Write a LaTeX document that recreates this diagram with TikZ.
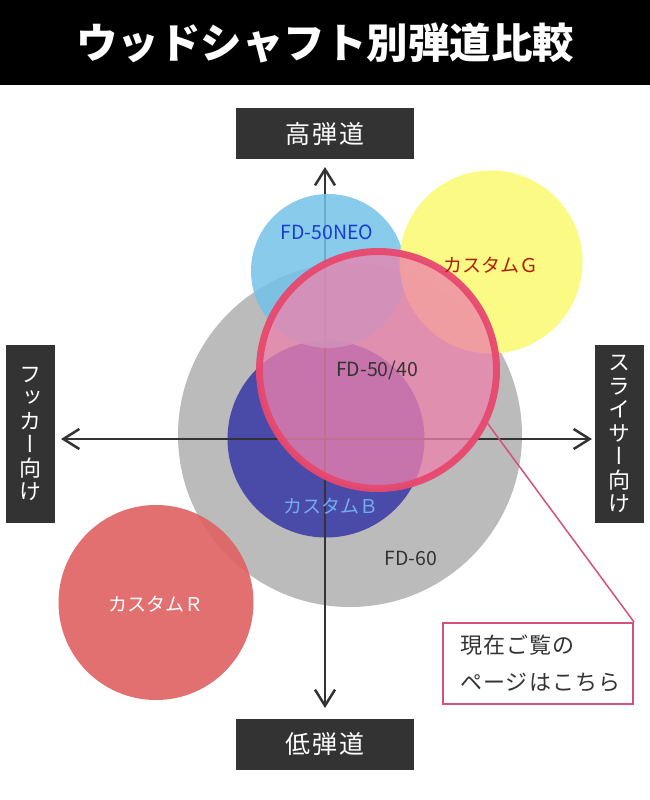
\documentclass[tikz,border=0pt]{standalone}
\usepackage{fontspec}
\setmainfont{Noto Sans CJK JP}
\newfontfamily\vertfont{Noto Sans CJK JP}[RawFeature=+vert]
\usetikzlibrary{arrows.meta,positioning}

\definecolor{boxgray}{HTML}{333333}
\definecolor{fdsixty}{HTML}{BBBBBB}
\definecolor{custb}{HTML}{4A4AA8}
\definecolor{fdneo}{HTML}{74C2E8}
\definecolor{custg}{HTML}{FAFA78}
\definecolor{fdfifty}{HTML}{EE82AC}
\definecolor{fdedge}{HTML}{E8486E}
\definecolor{custr}{HTML}{E06464}
\definecolor{noteline}{HTML}{D4507E}
\definecolor{neotext}{HTML}{1A3CD0}
\definecolor{gtext}{HTML}{B01E00}
\definecolor{btext}{HTML}{70AEF0}

\begin{document}
\begin{tikzpicture}[x=1pt, y=-1pt,
    axisbox/.style={fill=boxgray, text=white, inner sep=0pt, minimum width=178pt, minimum height=51pt,
      font=\fontsize{25}{30}\selectfont\addfontfeatures{LetterSpace=8}},
    sidebox/.style={fill=boxgray, text=white, inner sep=0pt, minimum width=49pt, minimum height=178pt,
      align=center, font=\vertfont\fontsize{22}{23.5}\selectfont},
    axisline/.style={draw=boxgray, line width=2.5pt,
      {Straight Barb[length=16pt,width=20pt]}-{Straight Barb[length=16pt,width=20pt]}},
    ball/.style={circle, inner sep=0pt, minimum size=#1},
    lbl/.style={font=\fontsize{19.5}{22}\selectfont},
    kana/.style={font=\fontsize{19}{22}\selectfont}]

    \useasboundingbox (0,0) rectangle (650,800);
    \fill[white] (0,0) rectangle (650,800);

    % title
    \node[fill=black, text=white, inner sep=0pt, minimum width=650pt, minimum height=85pt,
      font=\bfseries\fontsize{41.5}{44}\selectfont] (title) at (325,42.5) {ウッドシャフト別弾道比較};

    % axis labels
    \node[axisbox] (high) at (325,133.5) {高弾道};
    \node[axisbox] (low) at (325,744) {低弾道};
    \node[sidebox] (hook) at (30.5,434) {フ\\ッ\\カ\\ー\\向\\け};
    \node[sidebox] (slice) at (619.5,434) {ス\\ラ\\イ\\サ\\ー\\向\\け};

    % circles
    \node[ball=344pt, fill=fdsixty] (fd60) at (350,435) {};
    \node[ball=197pt, fill=custb] (custB) at (326,439) {};

    \coordinate (hookend) at (61,439);
    \coordinate (sliceend) at (592,439);
    \coordinate (highend) at (325,167);
    \coordinate (lowend) at (325,708);
    \draw[axisline] (hookend) -- (sliceend);
    \draw[axisline] (highend) -- (lowend);

    \node[ball=154pt, fill=fdneo, fill opacity=0.85] (fdneo) at (328,271) {};
    \node[ball=183pt, fill=custg, fill opacity=0.9] (custG) at (491,262) {};
    \node[ball=195pt, fill=custr, fill opacity=0.92] (custR) at (156,602.5) {};
    \node[ball=237pt, fill=fdfifty, fill opacity=0.76, draw=fdedge, draw opacity=0.95,
      line width=7pt] (fd5040) at (378,370) {};

    % circle labels
    \node[lbl, text=neotext] (neolbl) at (327,232) {FD-50NEO};
    \node[kana, text=gtext] (glbl) at (491,265) {カスタムＧ};
    \node[lbl, text=boxgray] (fiftylbl) at (377,370) {FD-50/40};
    \node[kana, text=btext] (blbl) at (331,506) {カスタムＢ};
    \node[lbl, text=boxgray] (sixtylbl) at (411,558) {FD-60};
    \node[kana, text=white] (rlbl) at (156,604) {カスタムＲ};

    % note
    \node[draw=noteline, line width=2pt, fill=white, minimum width=190pt, minimum height=81pt]
      (note) at (538,663.5) {};
    \node[right=18pt of note.west, align=left, text=boxgray, inner sep=0pt,
      font=\fontsize{22}{37}\selectfont\addfontfeatures{LetterSpace=5}] (notetxt)
      {現在ご覧の\\ページはこちら};
    \draw[noteline, line width=1.5pt] (fd5040.-26) -- (note.north east);
  \end{tikzpicture}
\end{document}
